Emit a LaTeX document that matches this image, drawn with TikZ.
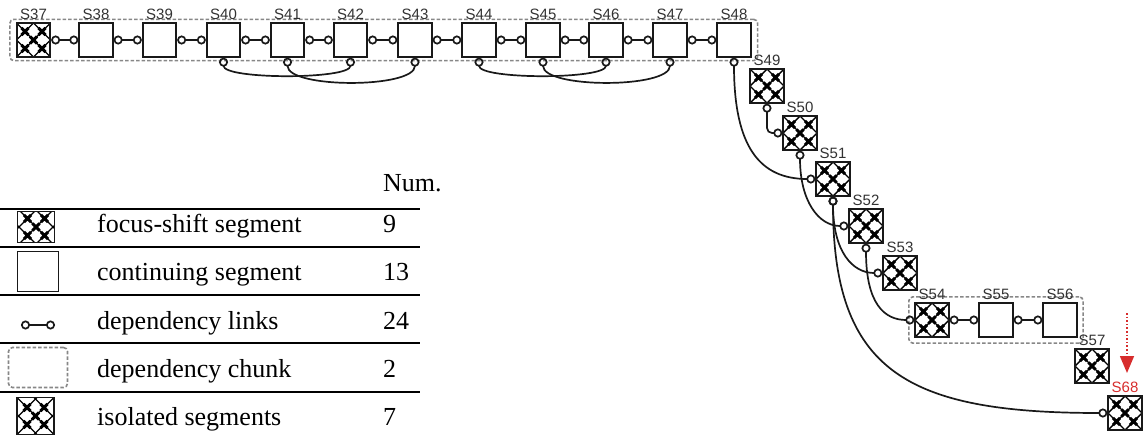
\documentclass[tikz,border=0pt]{standalone}
\usepackage{fontspec}
\setmainfont{Liberation Serif}
\newfontfamily\lblfont{Liberation Sans}
\usetikzlibrary{arrows.meta, positioning, fit, backgrounds}
\definecolor{segDark}{RGB}{25,25,25}
\definecolor{chunkGray}{RGB}{135,135,135}
\definecolor{lblGray}{RGB}{50,50,50}
\definecolor{shiftRed}{RGB}{215,45,45}
\newcommand{\fsstep}{8.5pt}

\begin{document}
\begin{tikzpicture}[x=1pt, y=-1pt, label distance=3pt,
    seg/.style={rectangle, draw=segDark, fill=white, line width=1.8pt,
      minimum size=33.5pt, inner sep=0pt},
    fsseg/.style={seg, path picture={
      \foreach \k in {-2,0,2} {
        \draw[black, line width=1.4pt]
          ([shift={(\k*\fsstep-20pt,-20pt)}]path picture bounding box.center) --
          ([shift={(\k*\fsstep+20pt,20pt)}]path picture bounding box.center)
          ([shift={(\k*\fsstep-20pt,20pt)}]path picture bounding box.center) --
          ([shift={(\k*\fsstep+20pt,-20pt)}]path picture bounding box.center);
      }
      \foreach \px/\py in {0/0,1/1,1/-1,-1/1,-1/-1}
        \draw[black, line width=2.9pt]
          ([shift={(\px*\fsstep-3.6pt,\py*\fsstep-3.6pt)}]path picture bounding box.center) --
          ([shift={(\px*\fsstep+3.6pt,\py*\fsstep+3.6pt)}]path picture bounding box.center)
          ([shift={(\px*\fsstep-3.6pt,\py*\fsstep+3.6pt)}]path picture bounding box.center) --
          ([shift={(\px*\fsstep+3.6pt,\py*\fsstep-3.6pt)}]path picture bounding box.center);
    }},
    lbl/.style={font=\lblfont\fontsize{15}{15}\selectfont, text=lblGray, inner sep=0pt},
    link/.style={{Circle[open,length=9pt]}-{Circle[open,length=9pt]}, line width=1.7pt, draw=segDark},
    chunk/.style={draw=chunkGray, dash pattern=on 3.5pt off 2pt, line width=1.6pt, rounded corners=4pt},
    legtext/.style={font=\fontsize{26}{30}\selectfont, anchor=base west, inner sep=0pt},
    rowrule/.style={line width=2pt},
    shiftarrow/.style={draw=shiftRed, line width=1.6pt, dotted, -{Triangle[width=14pt,length=17pt]}, shiftRed}
]
\useasboundingbox (0,0) rectangle (1144,437);

% first chain, S37 to S48
\node[fsseg, label={[lbl]above:S37}] (S37) at (33.5,40) {};
\node[seg, label={[lbl]above:S38}] (S38) at (96,40) {};
\node[seg, label={[lbl]above:S39}] (S39) at (159.5,40) {};
\node[seg, label={[lbl]above:S40}] (S40) at (223.5,40) {};
\node[seg, label={[lbl]above:S41}] (S41) at (287.5,40) {};
\node[seg, label={[lbl]above:S42}] (S42) at (350.5,40) {};
\node[seg, label={[lbl]above:S43}] (S43) at (415,40) {};
\node[seg, label={[lbl]above:S44}] (S44) at (479,40) {};
\node[seg, label={[lbl]above:S45}] (S45) at (543,40) {};
\node[seg, label={[lbl]above:S46}] (S46) at (606,40) {};
\node[seg, label={[lbl]above:S47}] (S47) at (670,40) {};
\node[seg, label={[lbl]above:S48}] (S48) at (734,40) {};

% focus-shift staircase
\node[fsseg, label={[lbl]above:S49}] (S49) at (767,86) {};
\node[fsseg, label={[lbl]above:S50}] (S50) at (800,133) {};
\node[fsseg, label={[lbl]above:S51}] (S51) at (833,179) {};
\node[fsseg, label={[lbl]above:S52}] (S52) at (866,226) {};
\node[fsseg, label={[lbl]above:S53}] (S53) at (900,273) {};
\node[fsseg, label={[lbl]above:S54}] (S54) at (932,320) {};
\node[seg, label={[lbl]above:S55}] (S55) at (996,320) {};
\node[seg, label={[lbl]above:S56}] (S56) at (1060,320) {};
\node[fsseg, label={[lbl]above:S57}] (S57) at (1092,366) {};
\node[fsseg, label={[lbl, text=shiftRed]above:S68}] (S68) at (1125,413) {};

% dependency chunks
\begin{scope}[on background layer]
\node[chunk, inner xsep=6pt, inner ysep=3pt, fit=(S37)(S48)] (chunkA) {};
\node[chunk, inner sep=5.5pt, fit=(S54)(S56)] (chunkB) {};
\end{scope}

% dependency links
\draw[link] (S37) -- (S38);
\draw[link] (S38) -- (S39);
\draw[link] (S39) -- (S40);
\draw[link] (S40) -- (S41);
\draw[link] (S41) -- (S42);
\draw[link] (S42) -- (S43);
\draw[link] (S43) -- (S44);
\draw[link] (S44) -- (S45);
\draw[link] (S45) -- (S46);
\draw[link] (S46) -- (S47);
\draw[link] (S47) -- (S48);
\draw[link] (S40.south) .. controls +(0,22) and +(0,22) .. (S42.south);
\draw[link] (S41.south) .. controls +(0,31) and +(0,31) .. (S43.south);
\draw[link] (S44.south) .. controls +(0,22) and +(0,22) .. (S46.south);
\draw[link] (S45.south) .. controls +(0,31) and +(0,31) .. (S47.south);
\draw[link] (S48.south) .. controls +(0,90) and +(-55,0) .. (S51.west);
\draw[link, rounded corners=5pt] (S49.south) |- (S50.west);
\draw[link] (S50.south) .. controls +(0,50) and +(-30,0) .. (S52.west);
\draw[link] (S51.south) .. controls +(0,55) and +(-30,0) .. (S53.west);
\draw[link] (S51.south) .. controls +(0,175) and +(-200,0) .. (S68.west);
\draw[link] (S52.south) .. controls +(0,60) and +(-30,0) .. (S54.west);
\draw[link] (S54) -- (S55);
\draw[link] (S55) -- (S56);

% shift marker
\coordinate (shiftA) at (1127,313);
\coordinate (shiftB) at (1127,373);
\draw[shiftarrow] (shiftA) -- (shiftB);

% legend table
\node[legtext] (lgnum) at (383,191) {Num.};
\draw[rowrule] (0,209) -- (420,209);
\draw[rowrule] (0,247) -- (420,247);
\draw[rowrule] (0,295) -- (420,295);
\draw[rowrule] (0,343) -- (420,343);
\draw[rowrule] (0,392) -- (420,392);

\node[fsseg, minimum width=37pt, minimum height=31pt] (lgfs) at (36,227) {};
\node[seg, minimum width=41pt, minimum height=40pt] (lgcont) at (38,271.5) {};
\coordinate (lglinkA) at (21,325);
\coordinate (lglinkB) at (55,325);
\draw[link] (lglinkA) -- (lglinkB);
\node[chunk, minimum width=59pt, minimum height=40pt, inner sep=0pt] (lgchunk) at (38,367.5) {};
\node[fsseg, minimum width=37pt, minimum height=37pt] (lgiso) at (35.5,416) {};

\node[legtext] (lgt1) at (97,232.5) {focus-shift segment};
\node[legtext] (lgt2) at (97,280) {continuing segment};
\node[legtext] (lgt3) at (97,329) {dependency links};
\node[legtext] (lgt4) at (97,377) {dependency chunk};
\node[legtext] (lgt5) at (97,425) {isolated segments};
\node[legtext] (lgn1) at (383,232.5) {9};
\node[legtext] (lgn2) at (383,280) {13};
\node[legtext] (lgn3) at (383,329) {24};
\node[legtext] (lgn4) at (383,377) {2};
\node[legtext] (lgn5) at (383,425) {7};
\end{tikzpicture}
\end{document}
